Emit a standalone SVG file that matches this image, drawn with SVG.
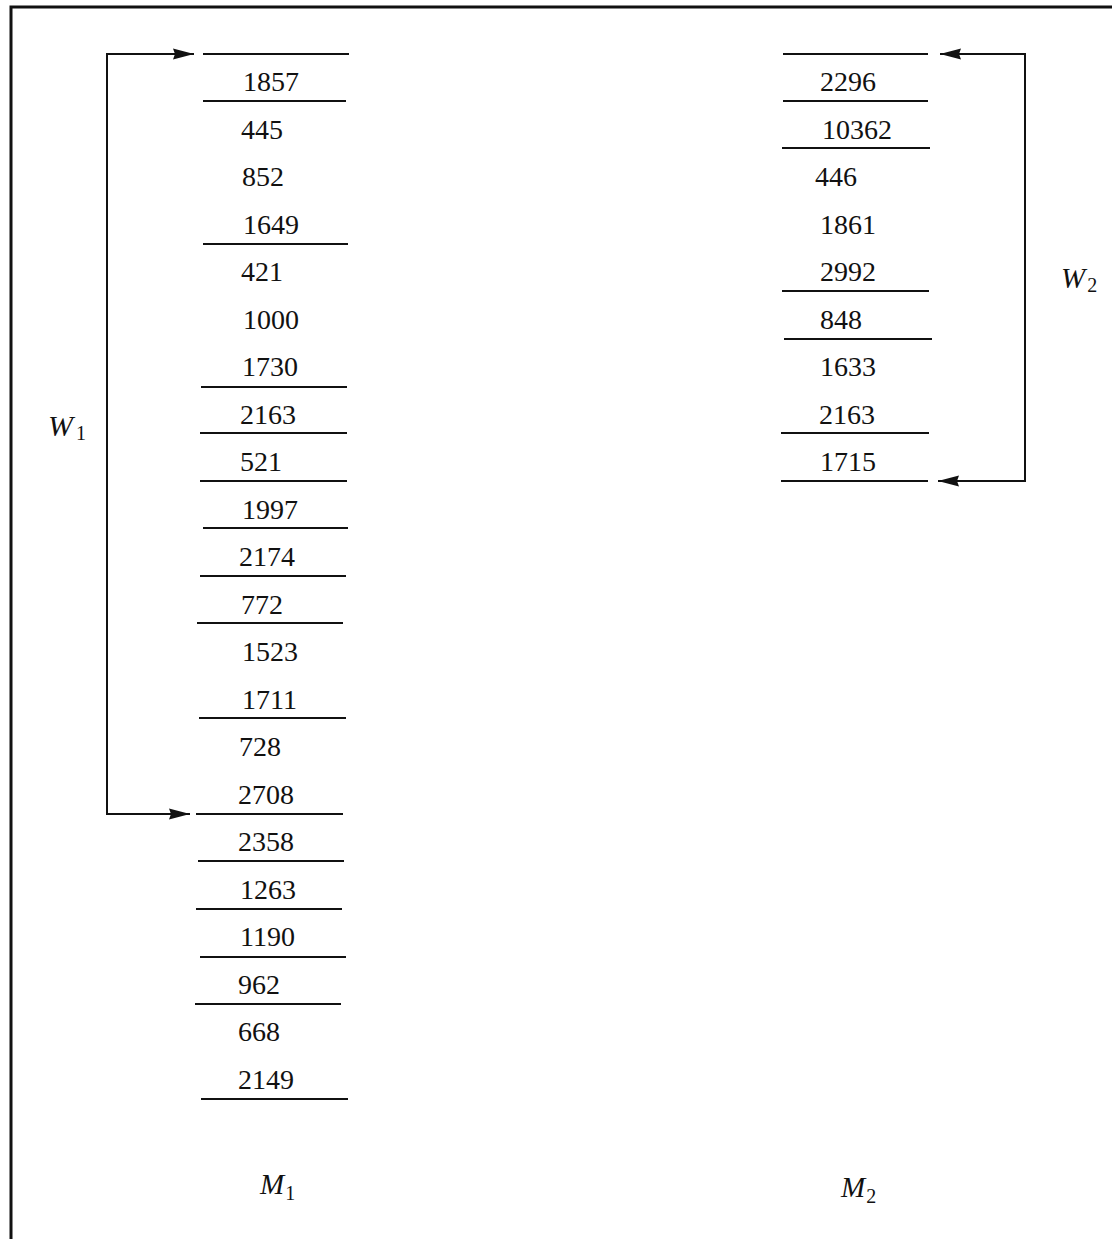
<svg xmlns="http://www.w3.org/2000/svg" width="1112" height="1239" viewBox="0 0 1112 1239">
<style>
  .num { font-family: "Liberation Serif", "Times New Roman", serif; font-size: 28px; fill: #111; }
  .lab { font-family: "Liberation Serif", "Times New Roman", serif; font-style: italic; fill: #111; }
  .sub { font-style: normal; }
  .rule { stroke: #111; stroke-width: 2; fill: none; }
  .conn { stroke: #111; stroke-width: 2; fill: none; marker-start: url(#ah); marker-end: url(#ah); }
  .frame { stroke: #111; stroke-width: 3; fill: none; }
</style>
<defs>
  <marker id="ah" markerUnits="userSpaceOnUse" markerWidth="22" markerHeight="12" refX="21" refY="6" orient="auto-start-reverse" viewBox="0 0 22 12">
    <path d="M0,0.5 L21,6 L0,11.5 L2,6 z" fill="#111"/>
  </marker>
</defs>
<rect width="1112" height="1239" fill="#fff"/>
<g id="frame">
  <path class="frame" d="M11 1239 V7 H1112"/>
</g>

<g id="column-M1">
  <g id="m1-rules">
    <line class="rule" x1="203" y1="54" x2="349" y2="54"/>
    <line class="rule" x1="203" y1="101" x2="346" y2="101"/>
    <line class="rule" x1="203" y1="244" x2="348" y2="244"/>
    <line class="rule" x1="201" y1="387" x2="347" y2="387"/>
    <line class="rule" x1="200" y1="433" x2="347" y2="433"/>
    <line class="rule" x1="200" y1="481" x2="347" y2="481"/>
    <line class="rule" x1="203" y1="528" x2="348" y2="528"/>
    <line class="rule" x1="200" y1="576" x2="346" y2="576"/>
    <line class="rule" x1="197" y1="623" x2="343" y2="623"/>
    <line class="rule" x1="199" y1="718" x2="346" y2="718"/>
    <line class="rule" x1="196" y1="814" x2="343" y2="814"/>
    <line class="rule" x1="198" y1="861" x2="344" y2="861"/>
    <line class="rule" x1="196" y1="909" x2="342" y2="909"/>
    <line class="rule" x1="200" y1="957" x2="346" y2="957"/>
    <line class="rule" x1="195" y1="1004" x2="341" y2="1004"/>
    <line class="rule" x1="201" y1="1099" x2="348" y2="1099"/>
  </g>
  <g id="m1-r0"><text class="num" x="243" y="91">1857</text></g>
  <g id="m1-r1"><text class="num" x="241" y="138.5">445</text></g>
  <g id="m1-r2"><text class="num" x="242" y="186">852</text></g>
  <g id="m1-r3"><text class="num" x="243" y="233.5">1649</text></g>
  <g id="m1-r4"><text class="num" x="241" y="281">421</text></g>
  <g id="m1-r5"><text class="num" x="243" y="328.5">1000</text></g>
  <g id="m1-r6"><text class="num" x="242" y="376">1730</text></g>
  <g id="m1-r7"><text class="num" x="240" y="423.5">2163</text></g>
  <g id="m1-r8"><text class="num" x="240" y="471">521</text></g>
  <g id="m1-r9"><text class="num" x="242" y="518.5">1997</text></g>
  <g id="m1-r10"><text class="num" x="239" y="566">2174</text></g>
  <g id="m1-r11"><text class="num" x="241" y="613.5">772</text></g>
  <g id="m1-r12"><text class="num" x="242" y="661">1523</text></g>
  <g id="m1-r13"><text class="num" x="242" y="708.5">1711</text></g>
  <g id="m1-r14"><text class="num" x="239" y="756">728</text></g>
  <g id="m1-r15"><text class="num" x="238" y="803.5">2708</text></g>
  <g id="m1-r16"><text class="num" x="238" y="851">2358</text></g>
  <g id="m1-r17"><text class="num" x="240" y="898.5">1263</text></g>
  <g id="m1-r18"><text class="num" x="240" y="946">1190</text></g>
  <g id="m1-r19"><text class="num" x="238" y="993.5">962</text></g>
  <g id="m1-r20"><text class="num" x="238" y="1041">668</text></g>
  <g id="m1-r21"><text class="num" x="238" y="1088.5">2149</text></g>
</g>

<g id="column-M2">
  <g id="m2-rules">
    <line class="rule" x1="783" y1="54" x2="928" y2="54"/>
    <line class="rule" x1="783" y1="101" x2="928" y2="101"/>
    <line class="rule" x1="782" y1="148" x2="930" y2="148"/>
    <line class="rule" x1="782" y1="291" x2="929" y2="291"/>
    <line class="rule" x1="784" y1="339" x2="932" y2="339"/>
    <line class="rule" x1="781" y1="433" x2="929" y2="433"/>
    <line class="rule" x1="781" y1="481" x2="928" y2="481"/>
  </g>
  <g id="m2-r0"><text class="num" x="820" y="91">2296</text></g>
  <g id="m2-r1"><text class="num" x="822" y="138.5">10362</text></g>
  <g id="m2-r2"><text class="num" x="815" y="186">446</text></g>
  <g id="m2-r3"><text class="num" x="820" y="233.5">1861</text></g>
  <g id="m2-r4"><text class="num" x="820" y="281">2992</text></g>
  <g id="m2-r5"><text class="num" x="820" y="328.5">848</text></g>
  <g id="m2-r6"><text class="num" x="820" y="376">1633</text></g>
  <g id="m2-r7"><text class="num" x="819" y="423.5">2163</text></g>
  <g id="m2-r8"><text class="num" x="820" y="471">1715</text></g>
</g>

<g id="connectors">
  <path class="conn" d="M194 54 H107 V814 H190"/>
  <path class="conn" d="M940 54 H1025 V481 H938"/>
</g>

<g id="label-W1"><text class="lab" x="48" y="436" font-size="30">W<tspan class="sub" font-size="20" dx="3" dy="4">1</tspan></text></g>
<g id="label-W2"><text class="lab" x="1061" y="288" font-size="29">W<tspan class="sub" font-size="20" dx="2" dy="4">2</tspan></text></g>
<g id="label-M1"><text class="lab" x="260" y="1194" font-size="29">M<tspan class="sub" font-size="20" dx="1" dy="6">1</tspan></text></g>
<g id="label-M2"><text class="lab" x="841" y="1197" font-size="29">M<tspan class="sub" font-size="20" dx="1" dy="6">2</tspan></text></g>
</svg>
